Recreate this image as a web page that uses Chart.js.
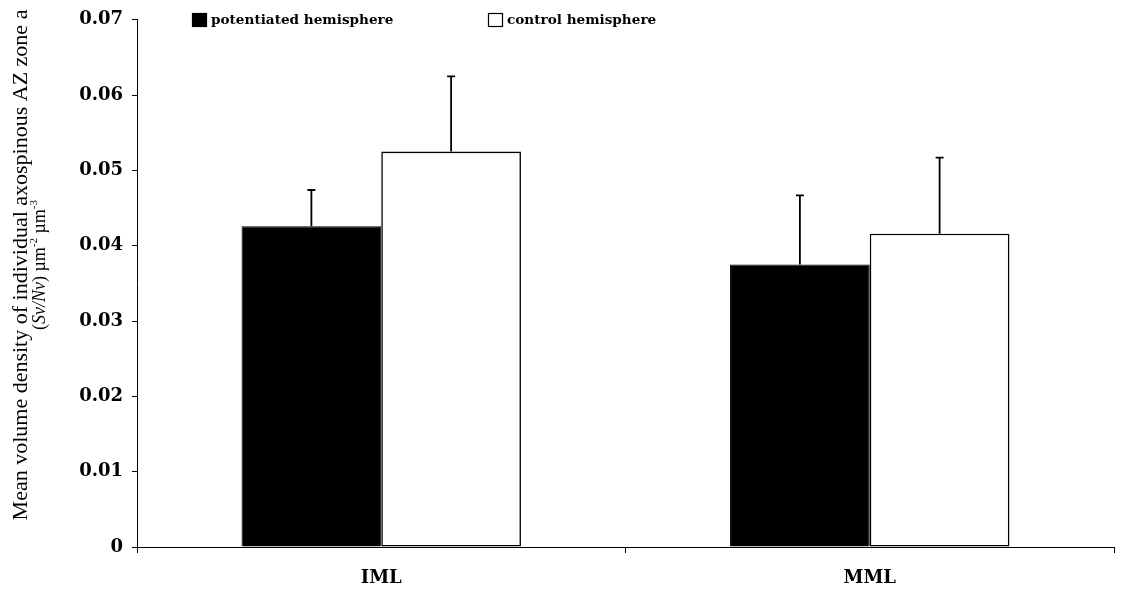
<!DOCTYPE html>
<html>
<head>
<meta charset="utf-8">
<script src="https://cdn.jsdelivr.net/npm/chart.js@4"></script>
<style>
  html, body { margin: 0; padding: 0; background: #fff; }
  #wrap { width: 1121px; height: 591px; position: relative; }
</style>
</head>
<body>
<div id="wrap"><canvas id="chart"></canvas></div>
<script>
// data
const categories = ['IML', 'MML'];
const potentiated = [0.0426, 0.0375];
const potentiatedErr = [0.0048, 0.0092];
const control = [0.0525, 0.0416];
const controlErr = [0.0100, 0.0101];
const seriesNames = ['potentiated hemisphere', 'control hemisphere'];
const yTicks = [0, 0.01, 0.02, 0.03, 0.04, 0.05, 0.06, 0.07];

const wide = '"DejaVu Serif", serif';
const times = '"Liberation Serif", serif';

// upper error bars only, like the original
const errorBars = {
    id: 'errorBars',
    afterDatasetsDraw(chart) {
        const ctx = chart.ctx;
        const y = chart.scales.y;
        ctx.save();
        ctx.strokeStyle = '#000';
        ctx.lineWidth = 1.8;
        chart.data.datasets.forEach((ds, i) => {
            const meta = chart.getDatasetMeta(i);
            meta.data.forEach((bar, j) => {
                const top = y.getPixelForValue(ds.data[j] + ds.errors[j]);
                ctx.beginPath();
                ctx.moveTo(bar.x, bar.y);
                ctx.lineTo(bar.x, top);
                ctx.moveTo(bar.x - 4, top);
                ctx.lineTo(bar.x + 4, top);
                ctx.stroke();
            });
        });
        ctx.restore();
    }
};

// legend sits inside the plot, top left
const insideLegend = {
    id: 'insideLegend',
    afterDraw(chart) {
        const ctx = chart.ctx;
        const items = [
            { x: 192, fill: '#000', text: seriesNames[0] },
            { x: 488, fill: '#fff', text: seriesNames[1] }
        ];
        ctx.save();
        ctx.font = 'bold 13.6px ' + wide;
        ctx.textBaseline = 'middle';
        items.forEach(it => {
            ctx.fillStyle = it.fill;
            ctx.fillRect(it.x, 13, 15, 14);
            ctx.strokeStyle = '#000';
            ctx.lineWidth = 1.2;
            ctx.strokeRect(it.x + 0.5, 13.5, 14, 13);
            ctx.fillStyle = '#000';
            ctx.fillText(it.text, it.x + 19, 20);
        });
        ctx.restore();
    }
};

// y title drawn by hand: italic Sv/Nv and real superscripts
const yTitle = {
    id: 'yTitle',
    afterDraw(chart) {
        const ctx = chart.ctx;
        ctx.save();
        ctx.fillStyle = '#000';
        ctx.translate(0, 265);
        ctx.rotate(-Math.PI / 2);
        ctx.textBaseline = 'middle';
        ctx.textAlign = 'center';
        ctx.font = '22px ' + times;
        ctx.fillText('Mean volume density of individual axospinous AZ zone a', 0, 21);

        const parts = [
            { t: '(', f: '18px ' + times, dy: 0 },
            { t: 'Sv/Nv', f: 'italic 18px ' + times, dy: 0 },
            { t: ') \u00b5m', f: '18px ' + times, dy: 0 },
            { t: '-2', f: '11px ' + times, dy: -6 },
            { t: ' \u00b5m', f: '18px ' + times, dy: 0 },
            { t: '-3', f: '11px ' + times, dy: -6 }
        ];
        let total = 0;
        parts.forEach(p => { ctx.font = p.f; p.w = ctx.measureText(p.t).width; total += p.w; });
        let x = -total / 2;
        ctx.textAlign = 'left';
        parts.forEach(p => {
            ctx.font = p.f;
            ctx.fillText(p.t, x, 40 + p.dy);
            x += p.w;
        });
        ctx.restore();
    }
};

new Chart(document.getElementById('chart'), {
    type: 'bar',
    data: {
        labels: categories,
        datasets: [
            {
                label: seriesNames[0],
                data: potentiated,
                errors: potentiatedErr,
                backgroundColor: '#000',
                borderColor: '#000',
                borderWidth: 1
            },
            {
                label: seriesNames[1],
                data: control,
                errors: controlErr,
                backgroundColor: '#fff',
                borderColor: '#000',
                borderWidth: 1.6,
                borderSkipped: false
            }
        ]
    },
    options: {
        responsive: true,
        maintainAspectRatio: false,
        animation: false,
        layout: { padding: { top: 12, right: 7, left: 0, bottom: 0 } },
        datasets: { bar: { barPercentage: 1, categoryPercentage: 0.572 } },
        plugins: {
            legend: { display: false },
            tooltip: { enabled: false }
        },
        scales: {
            x: {
                offset: true,
                grid: { offset: true, drawOnChartArea: false, color: '#000', tickLength: 6, tickWidth: 1 },
                border: { color: '#000', width: 1 },
                ticks: { color: '#000', padding: 15, font: { family: wide, size: 18, weight: 'bold' } },
                afterFit: s => { s.height = 44; }
            },
            y: {
                min: 0,
                max: 0.07,
                afterBuildTicks: s => { s.ticks = yTicks.map(v => ({ value: v })); },
                grid: { drawOnChartArea: false, color: '#000', tickLength: 5, tickWidth: 1 },
                border: { color: '#000', width: 1 },
                ticks: {
                    color: '#000',
                    padding: 9,
                    font: { family: wide, size: 18, weight: 'bold' },
                    callback: v => (v === 0 ? '0' : v.toFixed(2))
                },
                afterFit: s => { s.width = 137; }
            }
        }
    },
    plugins: [errorBars, insideLegend, yTitle]
});
</script>
</body>
</html>
